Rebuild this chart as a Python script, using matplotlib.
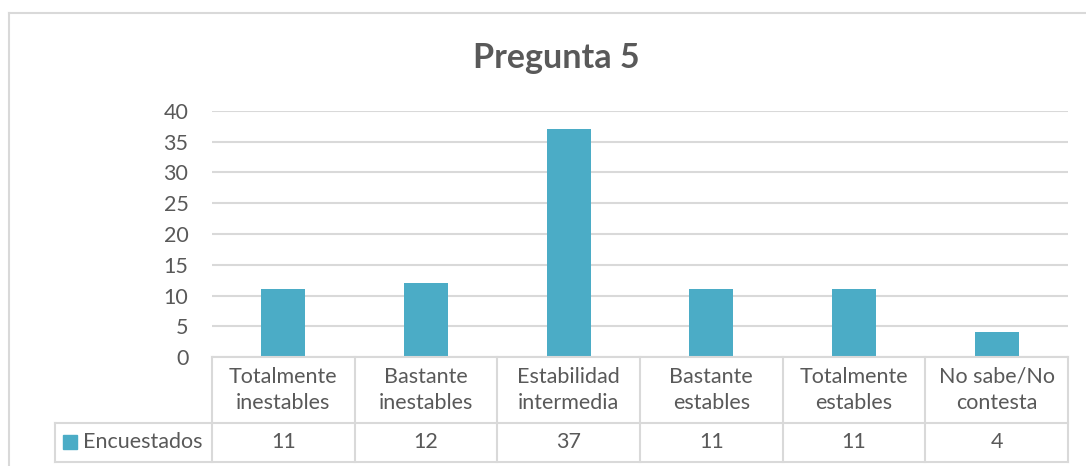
import matplotlib.pyplot as plt
from matplotlib.transforms import blended_transform_factory
from matplotlib.patches import Rectangle
from matplotlib.lines import Line2D

categorias = ["Totalmente\ninestables", "Bastante\ninestables", "Estabilidad\nintermedia",
              "Bastante\nestables", "Totalmente\nestables", "No sabe/No\ncontesta"]
encuestados = [11, 12, 37, 11, 11, 4]
serie = "Encuestados"
titulo = "Pregunta 5"
yticks = [0, 5, 10, 15, 20, 25, 30, 35, 40]

W, H = 1086, 466
azul = "#4bacc6"
gris = "#d9d9d9"
texto = "#595959"
plt.rcParams['font.family'] = ['Lato', 'DejaVu Sans']

fig = plt.figure(figsize=(W / 100, H / 100), dpi=100)

def fx(x):
    return x / W

def fy(y):
    return 1 - y / H

# marco del grafico
fig.add_artist(Line2D([fx(9), 1], [fy(13), fy(13)], color=gris, lw=1.5))
fig.add_artist(Line2D([fx(9), fx(9)], [fy(13), 0], color=gris, lw=1.5))

ax = fig.add_axes([fx(212), fy(357), fx(1068) - fx(212), fy(111) - fy(357)])
n = len(categorias)
xs = list(range(n))
ax.bar(xs, encuestados, width=0.31, color=azul, zorder=3)
ax.set_xlim(-0.5, n - 0.5)
ax.set_ylim(0, 40)
ax.set_yticks(yticks)
ax.set_yticklabels([str(v) for v in yticks], fontsize=15.5, color=texto)
ax.tick_params(axis='y', length=0, pad=17)
ax.set_xticks([])
for s in ax.spines.values():
    s.set_visible(False)
ax.grid(axis='y', color=gris, lw=1.5, zorder=0)

fig.text(fx(556), fy(58), titulo, ha='center', va='center', fontsize=24.5,
         fontweight='bold', color=texto)

# tabla de datos bajo el eje
tr = blended_transform_factory(ax.transData, fig.transFigure)
y_top, y_mid, y_bot = fy(357), fy(423), fy(462)
lw = 1.5
for x in [i - 0.5 for i in range(n + 1)]:
    fig.add_artist(Line2D([x, x], [y_top, y_bot], transform=tr, color=gris, lw=lw))
fig.add_artist(Line2D([-0.5, n - 0.5], [y_top, y_top], transform=tr, color=gris, lw=lw))
fig.add_artist(Line2D([fx(55), fx(1068)], [y_mid, y_mid], color=gris, lw=lw))
fig.add_artist(Line2D([fx(55), fx(1068)], [y_bot, y_bot], color=gris, lw=lw))
fig.add_artist(Line2D([fx(55), fx(55)], [y_mid, y_bot], color=gris, lw=lw))

for i, (cat, val) in enumerate(zip(categorias, encuestados)):
    fig.text(i, (y_top + y_mid) / 2, cat, transform=tr, ha='center', va='center',
             fontsize=15.5, color=texto, linespacing=1.4)
    fig.text(i, (y_mid + y_bot) / 2, str(val), transform=tr, ha='center', va='center',
             fontsize=15.5, color=texto)

fig.add_artist(Rectangle((fx(63), fy(449)), fx(14), fy(435) - fy(449), color=azul))
fig.text(fx(83), (y_mid + y_bot) / 2, serie, ha='left', va='center', fontsize=15.5, color=texto)

fig.savefig("out.png", dpi=100)
